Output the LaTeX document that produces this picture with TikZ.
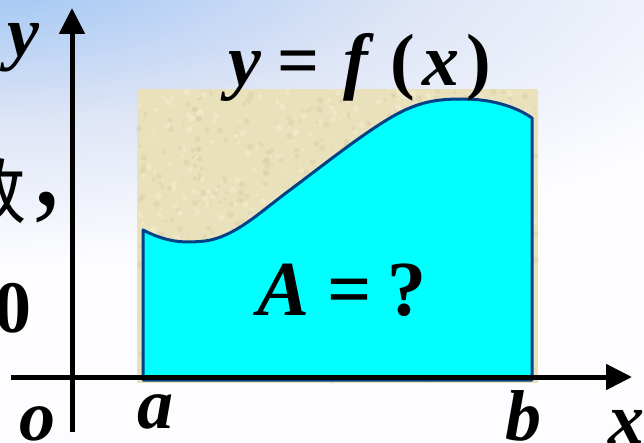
\documentclass[tikz,border=0pt]{standalone}
\usepackage{fontspec}
\setmainfont{Liberation Serif}
\newfontfamily\cjkfont{Noto Sans CJK SC}
\usetikzlibrary{arrows.meta}
\definecolor{bgblue}{RGB}{150,192,243}
\definecolor{bglav}{RGB}{222,229,246}
\definecolor{bgbase}{RGB}{253,253,255}
\definecolor{papertan}{RGB}{233,225,188}
\definecolor{tanlight}{RGB}{245,238,208}
\definecolor{tandark}{RGB}{212,200,158}
\definecolor{curveblue}{RGB}{0,66,136}
\definecolor{fillcyan}{RGB}{0,255,255}
\pgfdeclareradialshading{bgrad}{\pgfpoint{0bp}{0bp}}{color(0bp)=(bgblue); color(9bp)=(bglav); color(17bp)=(bgbase); color(50bp)=(bgbase)}
\tikzset{
  axisline/.style={line width=5pt, draw=black, -{Triangle[length=26pt,width=25pt]}},
  mlabel/.style={inner sep=0pt, anchor=base, font=\fontsize{72}{80}\selectfont\bfseries\itshape},
  rlabel/.style={inner sep=0pt, anchor=base, font=\fontsize{74}{80}\selectfont\bfseries},
  areaborder/.style={draw=curveblue, line width=3pt, fill=fillcyan, line join=round}
}
\begin{document}
\begin{tikzpicture}[x=1pt,y=-1pt]
\useasboundingbox (0,0) rectangle (644,443);
\clip (0,0) rectangle (644,443);
% background
\fill[bgbase] (0,0) rectangle (644,443);
\shade[shading=bgrad] (-40,-40) ellipse (1300 and 450);
% partial text at the left edge
\node[inner sep=0pt, anchor=base west, font=\fontsize{72}{80}\selectfont\cjkfont] (shu) at (-46,219) {数};
\node[inner sep=0pt, anchor=base west, font=\fontsize{120}{120}\selectfont] (comma) at (32,205) {,};
\node[rlabel, anchor=base east] (zero) at (32,332) {0};
% paper rectangle
\fill[papertan] (137,89) rectangle (538,383);
\pgfmathsetseed{7}
\foreach \i in {1,...,700}{
  \pgfmathsetmacro\rx{139+397*rnd}
  \pgfmathsetmacro\ry{91+290*rnd}
  \pgfmathsetmacro\rr{1+2.5*rnd}
  \fill[tandark, opacity=0.35] (\rx,\ry) circle (\rr);
}
\foreach \i in {1,...,500}{
  \pgfmathsetmacro\rx{139+397*rnd}
  \pgfmathsetmacro\ry{91+290*rnd}
  \pgfmathsetmacro\rr{1+2.5*rnd}
  \fill[tanlight, opacity=0.5] (\rx,\ry) circle (\rr);
}
% area under the curve
\path[areaborder] (143,380) -- (143,230)
  .. controls (168,243) and (185,243) .. (205,241)
  .. controls (235,237) and (260,212) .. (290,190)
  .. controls (330,160) and (375,124) .. (405,110)
  .. controls (425,101) and (440,99) .. (463,99)
  .. controls (490,99) and (515,106) .. (532,118)
  -- (532,380) -- cycle;
% axes
\coordinate (ybot) at (72,432);
\coordinate (ytop) at (72,8);
\coordinate (xleft) at (11,377);
\coordinate (xright) at (632,377);
\draw[axisline] (xleft) -- (xright);
\draw[axisline] (ybot) -- (ytop);
% labels
\node[mlabel] (ylab) at (23,57) {y};
\node[mlabel] (olab) at (37,440) {o};
\node[mlabel] (alab) at (155,428) {a};
\node[mlabel] (blab) at (523,440) {b};
\node[mlabel, anchor=base west] (xlab) at (608,443) {x};
\node[inner sep=0pt, anchor=base west, font=\fontsize{74}{80}\selectfont\bfseries] (func) at (228,86)
  {\textit{y}\hspace{0.22em}=\hspace{0.32em}\textit{f}\hspace{0.22em}(\hspace{0.1em}\textit{x}\hspace{0.1em})};
\node[inner sep=0pt, anchor=base, font=\fontsize{78}{80}\selectfont\bfseries] (area) at (342,315)
  {\textit{A}\hspace{0.22em}=\hspace{0.2em}?};
\end{tikzpicture}
\end{document}
